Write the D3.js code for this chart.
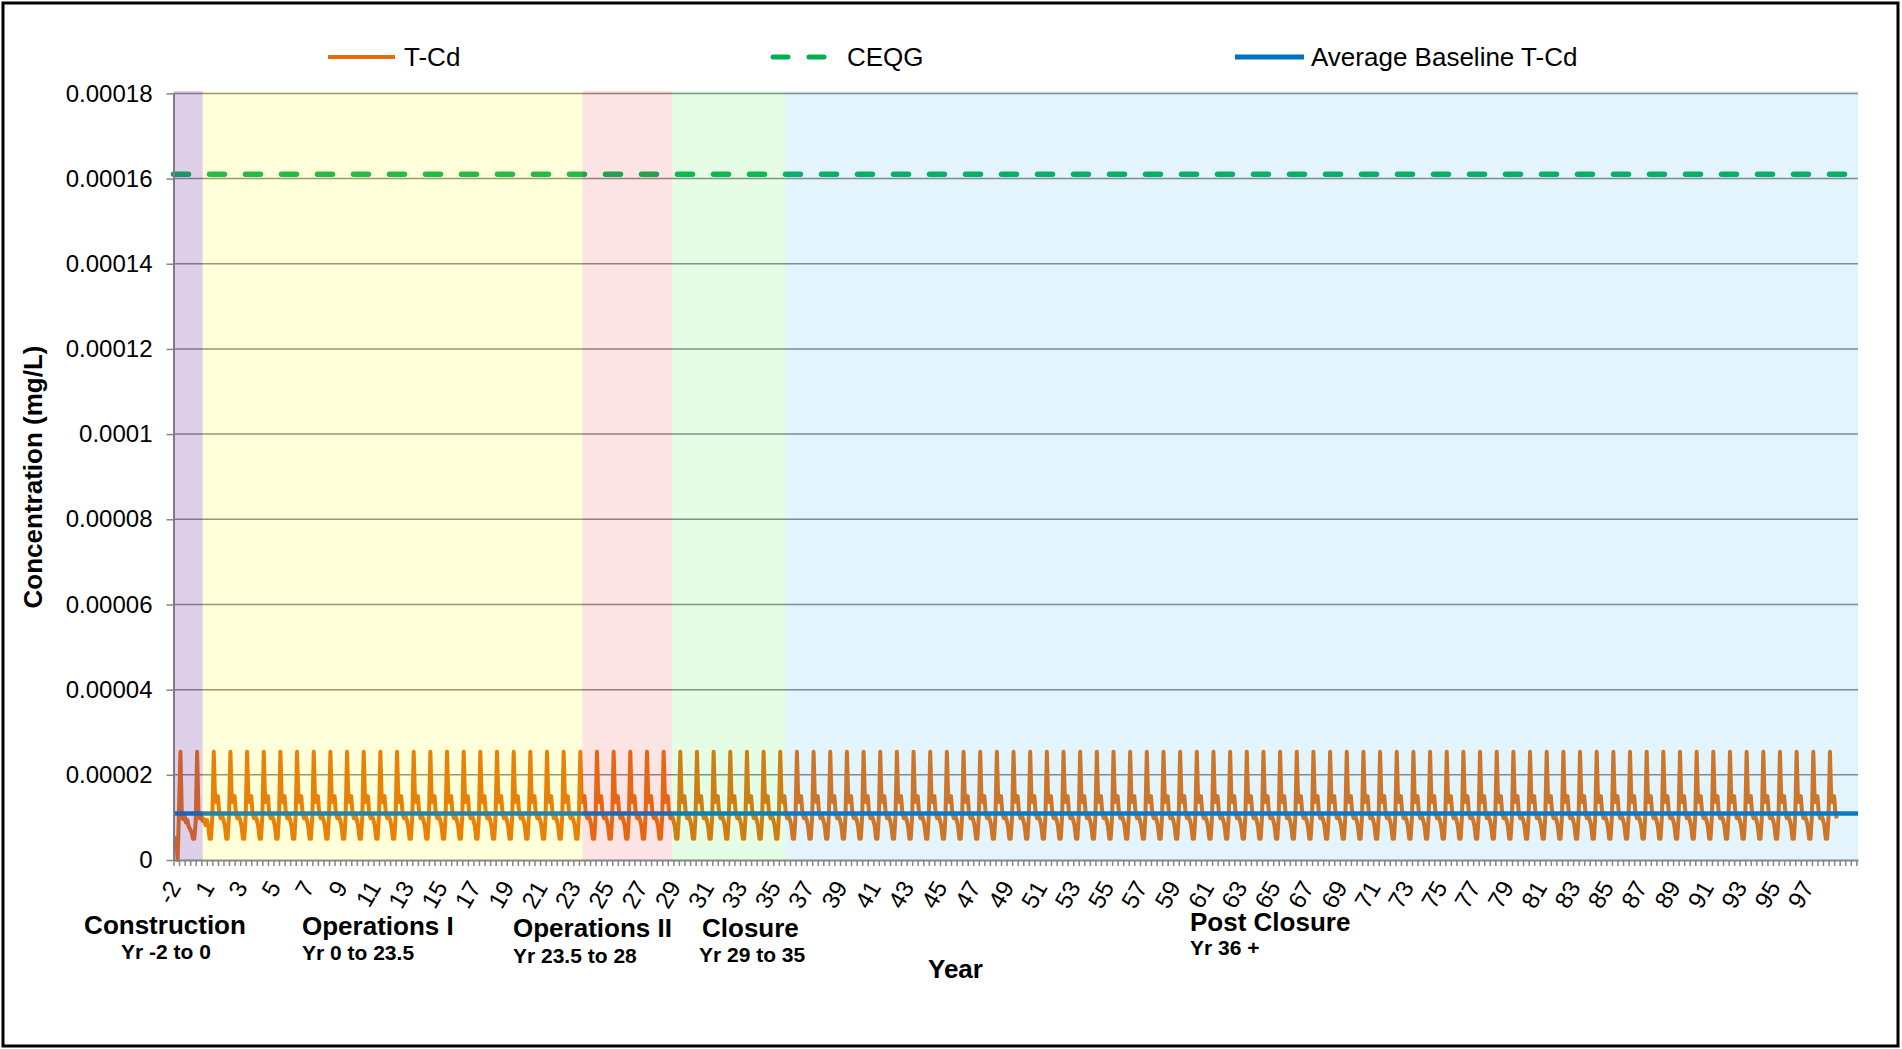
<!DOCTYPE html>
<html><head><meta charset="utf-8">
<script src="https://cdn.jsdelivr.net/npm/d3@7"></script>
<style>
html,body{margin:0;padding:0;background:#fff;}
svg{display:block;}
text{font-family:"Liberation Sans",Arial,Helvetica,sans-serif;}
</style>
</head><body>
<svg id="chart" width="1902" height="1049"></svg>
<script>
// ---------------- DATA ----------------
const yTickValues = [0, 0.00002, 0.00004, 0.00006, 0.00008, 0.0001, 0.00012, 0.00014, 0.00016, 0.00018];
const yTickLabels = ["0", "0.00002", "0.00004", "0.00006", "0.00008", "0.0001", "0.00012", "0.00014", "0.00016", "0.00018"];
const xTickLabels = ["-2","1","3","5","7","9","11","13","15","17","19","21","23","25","27","29","31","33","35","37","39","41","43","45","47","49","51","53","55","57","59","61","63","65","67","69","71","73","75","77","79","81","83","85","87","89","91","93","95","97"];
const seriesNames = ["T-Cd", "CEQG", "Average Baseline T-Cd"];
const ceqgValue = 0.000161;          // mg/L
const avgBaselineValue = 0.0000109;  // mg/L
const axisEndYear = 101.1;           // years from chart start (x-axis length)
const phaseNames = ["Construction", "Operations I", "Operations II", "Closure", "Post Closure"];
const phaseRanges = ["Yr -2 to 0", "Yr 0 to 23.5", "Yr 23.5 to 28", "Yr 29 to 35", "Yr 36 +"];
const phaseStart = [0, 1.75, 24.54, 29.92, 36.7];      // years from chart start
const phaseEnd = [1.75, 24.54, 29.92, 36.7, 101.1];
// T-Cd monthly concentrations, one row per year from chart start, in units of 1e-6 mg/L
const tcdMonthly = [
[5.1,5.1,5.1,0,12,25.4,10.8,9.6,10.4,8.8,9.4,7.8],
[7.2,6.5,5,5,9,25.4,11,9.8,10.6,9.2,9.6,8.2],
[9.4,8,5,5,10.4,25.4,13.8,13.6,15,10.8,9.8,10.4],
[9.4,8,5,5,10.4,25.4,13.8,13.6,15,10.8,9.8,10.4],
[9.4,8,5,5,10.4,25.4,13.8,13.6,15,10.8,9.8,10.4],
[9.4,8,5,5,10.4,25.4,13.8,13.6,15,10.8,9.8,10.4],
[9.4,8,5,5,10.4,25.4,13.8,13.6,15,10.8,9.8,10.4],
[9.4,8,5,5,10.4,25.4,13.8,13.6,15,10.8,9.8,10.4],
[9.4,8,5,5,10.4,25.4,13.8,13.6,15,10.8,9.8,10.4],
[9.4,8,5,5,10.4,25.4,13.8,13.6,15,10.8,9.8,10.4],
// 10-19
[9.4,8,5,5,10.4,25.4,13.8,13.6,15,10.8,9.8,10.4],
[9.4,8,5,5,10.4,25.4,13.8,13.6,15,10.8,9.8,10.4],
[9.4,8,5,5,10.4,25.4,13.8,13.6,15,10.8,9.8,10.4],
[9.4,8,5,5,10.4,25.4,13.8,13.6,15,10.8,9.8,10.4],
[9.4,8,5,5,10.4,25.4,13.8,13.6,15,10.8,9.8,10.4],
[9.4,8,5,5,10.4,25.4,13.8,13.6,15,10.8,9.8,10.4],
[9.4,8,5,5,10.4,25.4,13.8,13.6,15,10.8,9.8,10.4],
[9.4,8,5,5,10.4,25.4,13.8,13.6,15,10.8,9.8,10.4],
[9.4,8,5,5,10.4,25.4,13.8,13.6,15,10.8,9.8,10.4],
[9.4,8,5,5,10.4,25.4,13.8,13.6,15,10.8,9.8,10.4],
// 20-29
[9.4,8,5,5,10.4,25.4,13.8,13.6,15,10.8,9.8,10.4],
[9.4,8,5,5,10.4,25.4,13.8,13.6,15,10.8,9.8,10.4],
[9.4,8,5,5,10.4,25.4,13.8,13.6,15,10.8,9.8,10.4],
[9.4,8,5,5,10.4,25.4,13.8,13.6,15,10.8,9.8,10.4],
[9.4,8,5,5,10.4,25.4,13.8,13.6,15,10.8,9.8,10.4],
[9.4,8,5,5,10.4,25.4,13.8,13.6,15,10.8,9.8,10.4],
[9.4,8,5,5,10.4,25.4,13.8,13.6,15,10.8,9.8,10.4],
[9.4,8,5,5,10.4,25.4,13.8,13.6,15,10.8,9.8,10.4],
[9.4,8,5,5,10.4,25.4,13.8,13.6,15,10.8,9.8,10.4],
[9.4,8,5,5,10.4,25.4,13.8,13.6,15,10.8,9.8,10.4],
// 30-39
[9.4,8,5,5,10.4,25.4,13.8,13.6,15,10.8,9.8,10.4],
[9.4,8,5,5,10.4,25.4,13.8,13.6,15,10.8,9.8,10.4],
[9.4,8,5,5,10.4,25.4,13.8,13.6,15,10.8,9.8,10.4],
[9.4,8,5,5,10.4,25.4,13.8,13.6,15,10.8,9.8,10.4],
[9.4,8,5,5,10.4,25.4,13.8,13.6,15,10.8,9.8,10.4],
[9.4,8,5,5,10.4,25.4,13.8,13.6,15,10.8,9.8,10.4],
[9.4,8,5,5,10.4,25.4,13.8,13.6,15,10.8,9.8,10.4],
[9.4,8,5,5,10.4,25.4,13.8,13.6,15,10.8,9.8,10.4],
[9.4,8,5,5,10.4,25.4,13.8,13.6,15,10.8,9.8,10.4],
[9.4,8,5,5,10.4,25.4,13.8,13.6,15,10.8,9.8,10.4],
// 40-49
[9.4,8,5,5,10.4,25.4,13.8,13.6,15,10.8,9.8,10.4],
[9.4,8,5,5,10.4,25.4,13.8,13.6,15,10.8,9.8,10.4],
[9.4,8,5,5,10.4,25.4,13.8,13.6,15,10.8,9.8,10.4],
[9.4,8,5,5,10.4,25.4,13.8,13.6,15,10.8,9.8,10.4],
[9.4,8,5,5,10.4,25.4,13.8,13.6,15,10.8,9.8,10.4],
[9.4,8,5,5,10.4,25.4,13.8,13.6,15,10.8,9.8,10.4],
[9.4,8,5,5,10.4,25.4,13.8,13.6,15,10.8,9.8,10.4],
[9.4,8,5,5,10.4,25.4,13.8,13.6,15,10.8,9.8,10.4],
[9.4,8,5,5,10.4,25.4,13.8,13.6,15,10.8,9.8,10.4],
[9.4,8,5,5,10.4,25.4,13.8,13.6,15,10.8,9.8,10.4],
// 50-59
[9.4,8,5,5,10.4,25.4,13.8,13.6,15,10.8,9.8,10.4],
[9.4,8,5,5,10.4,25.4,13.8,13.6,15,10.8,9.8,10.4],
[9.4,8,5,5,10.4,25.4,13.8,13.6,15,10.8,9.8,10.4],
[9.4,8,5,5,10.4,25.4,13.8,13.6,15,10.8,9.8,10.4],
[9.4,8,5,5,10.4,25.4,13.8,13.6,15,10.8,9.8,10.4],
[9.4,8,5,5,10.4,25.4,13.8,13.6,15,10.8,9.8,10.4],
[9.4,8,5,5,10.4,25.4,13.8,13.6,15,10.8,9.8,10.4],
[9.4,8,5,5,10.4,25.4,13.8,13.6,15,10.8,9.8,10.4],
[9.4,8,5,5,10.4,25.4,13.8,13.6,15,10.8,9.8,10.4],
[9.4,8,5,5,10.4,25.4,13.8,13.6,15,10.8,9.8,10.4],
// 60-69
[9.4,8,5,5,10.4,25.4,13.8,13.6,15,10.8,9.8,10.4],
[9.4,8,5,5,10.4,25.4,13.8,13.6,15,10.8,9.8,10.4],
[9.4,8,5,5,10.4,25.4,13.8,13.6,15,10.8,9.8,10.4],
[9.4,8,5,5,10.4,25.4,13.8,13.6,15,10.8,9.8,10.4],
[9.4,8,5,5,10.4,25.4,13.8,13.6,15,10.8,9.8,10.4],
[9.4,8,5,5,10.4,25.4,13.8,13.6,15,10.8,9.8,10.4],
[9.4,8,5,5,10.4,25.4,13.8,13.6,15,10.8,9.8,10.4],
[9.4,8,5,5,10.4,25.4,13.8,13.6,15,10.8,9.8,10.4],
[9.4,8,5,5,10.4,25.4,13.8,13.6,15,10.8,9.8,10.4],
[9.4,8,5,5,10.4,25.4,13.8,13.6,15,10.8,9.8,10.4],
// 70-79
[9.4,8,5,5,10.4,25.4,13.8,13.6,15,10.8,9.8,10.4],
[9.4,8,5,5,10.4,25.4,13.8,13.6,15,10.8,9.8,10.4],
[9.4,8,5,5,10.4,25.4,13.8,13.6,15,10.8,9.8,10.4],
[9.4,8,5,5,10.4,25.4,13.8,13.6,15,10.8,9.8,10.4],
[9.4,8,5,5,10.4,25.4,13.8,13.6,15,10.8,9.8,10.4],
[9.4,8,5,5,10.4,25.4,13.8,13.6,15,10.8,9.8,10.4],
[9.4,8,5,5,10.4,25.4,13.8,13.6,15,10.8,9.8,10.4],
[9.4,8,5,5,10.4,25.4,13.8,13.6,15,10.8,9.8,10.4],
[9.4,8,5,5,10.4,25.4,13.8,13.6,15,10.8,9.8,10.4],
[9.4,8,5,5,10.4,25.4,13.8,13.6,15,10.8,9.8,10.4],
// 80-89
[9.4,8,5,5,10.4,25.4,13.8,13.6,15,10.8,9.8,10.4],
[9.4,8,5,5,10.4,25.4,13.8,13.6,15,10.8,9.8,10.4],
[9.4,8,5,5,10.4,25.4,13.8,13.6,15,10.8,9.8,10.4],
[9.4,8,5,5,10.4,25.4,13.8,13.6,15,10.8,9.8,10.4],
[9.4,8,5,5,10.4,25.4,13.8,13.6,15,10.8,9.8,10.4],
[9.4,8,5,5,10.4,25.4,13.8,13.6,15,10.8,9.8,10.4],
[9.4,8,5,5,10.4,25.4,13.8,13.6,15,10.8,9.8,10.4],
[9.4,8,5,5,10.4,25.4,13.8,13.6,15,10.8,9.8,10.4],
[9.4,8,5,5,10.4,25.4,13.8,13.6,15,10.8,9.8,10.4],
[9.4,8,5,5,10.4,25.4,13.8,13.6,15,10.8,9.8,10.4],
// 90-99
[9.4,8,5,5,10.4,25.4,13.8,13.6,15,10.8,9.8,10.4],
[9.4,8,5,5,10.4,25.4,13.8,13.6,15,10.8,9.8,10.4],
[9.4,8,5,5,10.4,25.4,13.8,13.6,15,10.8,9.8,10.4],
[9.4,8,5,5,10.4,25.4,13.8,13.6,15,10.8,9.8,10.4],
[9.4,8,5,5,10.4,25.4,13.8,13.6,15,10.8,9.8,10.4],
[9.4,8,5,5,10.4,25.4,13.8,13.6,15,10.8,9.8,10.4],
[9.4,8,5,5,10.4,25.4,13.8,13.6,15,10.8,9.8,10.4],
[9.4,8,5,5,10.4,25.4,13.8,13.6,15,10.8,9.8,10.4],
[9.4,8,5,5,10.4,25.4,13.8,13.6,15,10.8,9.8,10.4],
[9.4,8,5,5,10.4,25.4,13.8,13.6,15,10.8,9.8]
];

// ---------------- STYLE / LAYOUT ----------------
const plot = {left: 173.5, right: 1858, top: 93.4, bottom: 860};
const seriesColors = ["#E46C0A", "#00B050", "#0070C0"];
const phaseFill = ["rgb(119,67,163)", "rgb(255,255,0)", "rgb(242,75,75)", "rgb(82,242,82)", "rgb(68,182,235)"];
const phaseOpacity = [0.25, 0.15, 0.15, 0.15, 0.15];
const axisGray = "#868686";

const svg = d3.select("#chart");
svg.append("rect").attr("x", 3).attr("y", 3).attr("width", 1895).attr("height", 1043)
  .attr("fill", "#fff").attr("stroke", "#000").attr("stroke-width", 3);

const x = d3.scaleLinear().domain([0, axisEndYear]).range([plot.left, plot.right]);
const y = d3.scaleLinear().domain([0, 0.00018]).range([plot.bottom, plot.top]);

// gridlines
svg.append("g").selectAll("line").data(yTickValues.filter(v => v > 0)).join("line")
  .attr("x1", plot.left).attr("x2", plot.right)
  .attr("y1", d => y(d)).attr("y2", d => y(d))
  .attr("stroke", axisGray).attr("stroke-width", 1.5);

// series
const tcdPoints = [];
tcdMonthly.forEach((row, r) => row.forEach((v, m) => tcdPoints.push([r + m / 12, v * 1e-6])));
const line = d3.line().x(d => x(d[0])).y(d => y(d[1]));

svg.append("path").datum(tcdPoints).attr("d", line)
  .attr("fill", "none").attr("stroke", seriesColors[0]).attr("stroke-width", 4)
  .attr("stroke-linejoin", "round");

svg.append("path").datum([[0, ceqgValue], [axisEndYear, ceqgValue]]).attr("d", line)
  .attr("fill", "none").attr("stroke", seriesColors[1]).attr("stroke-width", 5.5)
  .attr("stroke-dasharray", "15,21").attr("stroke-linecap", "round");

svg.append("path").datum([[0, avgBaselineValue], [axisEndYear, avgBaselineValue]]).attr("d", line)
  .attr("fill", "none").attr("stroke", seriesColors[2]).attr("stroke-width", 4.5);

// axes
const yAxis = d3.axisLeft(y).tickValues(yTickValues).tickFormat((d, i) => yTickLabels[i])
  .tickSize(7).tickSizeOuter(0).tickPadding(14);
const gy = svg.append("g").attr("transform", `translate(${plot.left},0)`).call(yAxis);
gy.select(".domain").attr("stroke", axisGray).attr("stroke-width", 2);
gy.selectAll(".tick line").attr("stroke", axisGray).attr("stroke-width", 1.5);
gy.selectAll(".tick text").attr("font-size", 24).attr("fill", "#000")
  .attr("font-family", '"Liberation Sans",Arial,sans-serif');

const minorTicks = d3.range(0, Math.floor(axisEndYear * 3) + 1).map(k => k / 3);
const xAxis = d3.axisBottom(x).tickValues(minorTicks).tickFormat("").tickSize(6).tickSizeOuter(0);
const gx = svg.append("g").attr("transform", `translate(0,${plot.bottom})`).call(xAxis);
gx.select(".domain").attr("stroke", axisGray).attr("stroke-width", 2);
gx.selectAll(".tick line").attr("stroke", axisGray).attr("stroke-width", 1.5);

// phase overlays (drawn over the lines, translucent)
svg.append("g").selectAll("rect").data(phaseNames).join("rect")
  .attr("x", (d, i) => x(phaseStart[i])).attr("width", (d, i) => x(phaseEnd[i]) - x(phaseStart[i]))
  .attr("y", 91).attr("height", plot.bottom - 91)
  .attr("fill", (d, i) => phaseFill[i]).attr("fill-opacity", (d, i) => phaseOpacity[i]);

// x tick labels (rotated)
svg.append("g").selectAll("text").data(xTickLabels).join("text")
  .attr("transform", (d, i) => `translate(${x(i * 2) + 1},883) rotate(-60)`)
  .attr("text-anchor", "end").attr("dy", "0.35em").attr("font-size", 24).attr("fill", "#000")
  .text(d => d);

// axis titles
svg.append("text").attr("transform", "translate(33,477) rotate(-90)")
  .attr("text-anchor", "middle").attr("dy", "0.35em")
  .attr("font-size", 26).attr("font-weight", "bold").text("Concentration (mg/L)");
svg.append("text").attr("x", 928).attr("y", 978)
  .attr("font-size", 26).attr("font-weight", "bold").text("Year");

// phase labels
const phaseLabelPos = [
  {x: 165, y: 934, sx: 166, sy: 959, anchor: "middle"},
  {x: 302, y: 935, sx: 302, sy: 960, anchor: "start"},
  {x: 513, y: 937, sx: 513, sy: 963, anchor: "start"},
  {x: 702, y: 937, sx: 699, sy: 962, anchor: "start"},
  {x: 1190, y: 931, sx: 1190, sy: 955, anchor: "start"}
];
const pl = svg.append("g");
phaseNames.forEach((n, i) => {
  const p = phaseLabelPos[i];
  pl.append("text").attr("x", p.x).attr("y", p.y).attr("text-anchor", p.anchor)
    .attr("font-size", 26).attr("font-weight", "bold").text(n);
  pl.append("text").attr("x", p.sx).attr("y", p.sy).attr("text-anchor", p.anchor)
    .attr("font-size", 21).attr("font-weight", "bold").text(phaseRanges[i]);
});

// legend
const legendPos = [
  {x1: 328, x2: 395, tx: 404},
  {x1: 773, x2: 826, tx: 847},
  {x1: 1235, x2: 1304, tx: 1311}
];
const lg = svg.append("g");
seriesNames.forEach((n, i) => {
  const p = legendPos[i];
  const l = lg.append("line").attr("x1", p.x1).attr("x2", p.x2).attr("y1", 57).attr("y2", 57)
    .attr("stroke", seriesColors[i]).attr("stroke-width", i === 0 ? 4 : 5);
  if (i === 1) l.attr("stroke-dasharray", "15,21").attr("stroke-linecap", "round");
  lg.append("text").attr("x", p.tx).attr("y", 57).attr("dy", "0.35em")
    .attr("font-size", 26).attr("fill", "#000").text(n);
});
</script>
</body></html>
